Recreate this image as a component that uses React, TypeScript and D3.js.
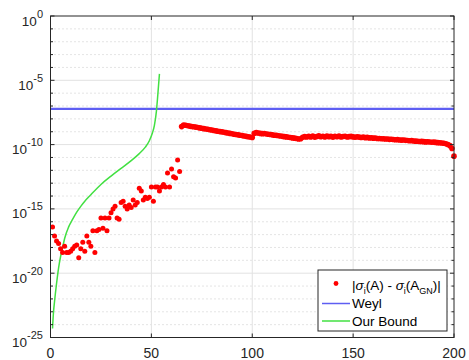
import React from "react";
import * as d3 from "d3";

// log10 of |sigma_i(A) - sigma_i(A_GN)| for i = 1..200
const gapExp: number[] = [
  -16.4, -17.1, -17.5, -17.7, -18.1, -18.4, -17.9, -18.4, -18.4, -18.3,
  -18.1, -17.9, -17.8, -18.8, -18.1, -17.6, -18.3, -17.1, -17.6, -17.9,
  -16.7, -18.4, -16.7, -16.6, -15.7, -16.5, -15.7, -16.7, -15.7, -15.3,
  -15.0, -14.8, -15.7, -15.8, -14.5, -14.4, -14.8, -15.0, -14.7, -14.9,
  -14.3, -14.7, -14.5, -13.4, -13.6, -14.3, -14.1, -14.2, -14.1, -13.3,
  -14.4, -13.3, -13.3, -13.6, -13.3, -13.1, -13.3, -12.2, -13.3, -11.9,
  -12.5, -12.6, -11.2, -12.1,
  // i = 65..100
  -8.6, -8.48, -8.5, -8.53, -8.56, -8.59, -8.61, -8.64, -8.67, -8.7,
  -8.73, -8.76, -8.79, -8.81, -8.84, -8.87, -8.9, -8.93, -8.96, -8.99,
  -9.01, -9.04, -9.07, -9.1, -9.13, -9.16, -9.19, -9.21, -9.24, -9.27,
  -9.3, -9.33, -9.36, -9.39, -9.41, -9.45,
  // i = 101..200
  -9.12, -9.07, -9.1, -9.13, -9.15, -9.14, -9.18, -9.2, -9.22, -9.24,
  -9.27, -9.28, -9.31, -9.33, -9.36, -9.38, -9.4, -9.43, -9.45, -9.48,
  -9.5, -9.53, -9.57, -9.54, -9.43, -9.38, -9.41, -9.36, -9.4, -9.34,
  -9.42, -9.37, -9.32, -9.39, -9.35, -9.41, -9.33, -9.38, -9.36, -9.42,
  -9.35, -9.39, -9.34, -9.4, -9.37, -9.35, -9.41, -9.38, -9.36, -9.4,
  -9.43, -9.39, -9.42, -9.45, -9.41, -9.46, -9.44, -9.48, -9.47, -9.5,
  -9.49, -9.53, -9.52, -9.55, -9.54, -9.57, -9.56, -9.59, -9.58, -9.6,
  -9.62, -9.61, -9.64, -9.65, -9.64, -9.67, -9.68, -9.7, -9.69, -9.72,
  -9.73, -9.74, -9.76, -9.75, -9.77, -9.79, -9.78, -9.8, -9.82, -9.81,
  -9.83, -9.85, -9.86, -9.88, -9.9, -9.94, -9.99, -10.08, -10.3, -10.9,
];

// Weyl perturbation bound (constant)
const weylBound = 6e-8;

// Our bound, as (index, log10 value) pairs
const boundX: number[] = [1, 1.5, 2, 3, 4, 5, 6, 7, 9, 11, 13, 15, 17, 20, 25, 30, 35, 40, 44, 47, 49, 50.5, 51.5, 52.5, 53, 53.5, 54];
const boundExp: number[] = [-24.3, -23.0, -22.2, -20.8, -19.6, -18.7, -18.0, -17.3, -16.4, -15.8, -15.25, -14.8, -14.4, -13.9, -13.1, -12.45, -11.85, -11.25, -10.7, -10.2, -9.7, -9.1, -8.5, -7.4, -6.5, -5.5, -4.5];

const xTicks = [0, 50, 100, 150, 200];
const yMajorExp = [0, -5, -10, -15, -20, -25];
const legendLabels = ["Weyl", "Our Bound"];

const FONT = "'Liberation Sans', Arial, Helvetica, sans-serif";

export default function App() {
  const W = 469, H = 360;
  const x0 = 50.5, x1 = 454, y0 = 337.5, y1 = 16;
  const x = d3.scaleLinear().domain([0, 200]).range([x0, x1]);
  const y = d3.scaleLog().domain([1e-25, 1]).range([y0, y1]);

  const minorExp = d3.range(-24, 0).filter((e) => e % 5 !== 0);
  const axisColor = "#262626";
  const blue = "#5e5ef2";
  const green = "#42e042";

  const boundLine = d3
    .line<number>()
    .x((_, k) => x(boundX[k]))
    .y((_, k) => y(Math.pow(10, boundExp[k])))
    .curve(d3.curveMonotoneX)(boundExp) as string;

  const legend = { x: 318, y: 270, w: 129, h: 61 };

  return (
    <svg width={W} height={H} style={{ position: "absolute", left: 0, top: 0, background: "#fff" }} fontFamily={FONT}>
      <rect x={0} y={0} width={W} height={H} fill="#fff" />
      {/* grid */}
      {minorExp.map((e) => (
        <line key={"mn" + e} x1={x0} x2={x1} y1={y(Math.pow(10, e))} y2={y(Math.pow(10, e))}
          stroke="#bdbdbd" strokeWidth={0.8} strokeDasharray="1,3" />
      ))}
      {yMajorExp.slice(1, -1).map((e) => (
        <line key={"mj" + e} x1={x0} x2={x1} y1={y(Math.pow(10, e))} y2={y(Math.pow(10, e))}
          stroke="#e2e2e2" strokeWidth={1} />
      ))}
      {xTicks.slice(1, -1).map((t) => (
        <line key={"vx" + t} x1={x(t)} x2={x(t)} y1={y1} y2={y0} stroke="#e2e2e2" strokeWidth={1} />
      ))}

      {/* Weyl bound */}
      <line x1={x0} x2={x1} y1={y(weylBound)} y2={y(weylBound)} stroke={blue} strokeWidth={2.2} />

      {/* our bound */}
      <path d={boundLine} fill="none" stroke={green} strokeWidth={1.5} />

      {/* singular value differences */}
      {gapExp.map((v, k) => (
        <circle key={"p" + k} cx={x(k + 1)} cy={y(Math.pow(10, v))} r={k < 64 ? 2.5 : 2.8} fill="#ff0000" />
      ))}

      {/* axes box and ticks */}
      <rect x={x0} y={y1} width={x1 - x0} height={y0 - y1} fill="none" stroke={axisColor} strokeWidth={1} />
      {xTicks.map((t) => (
        <g key={"xt" + t}>
          <line x1={x(t)} x2={x(t)} y1={y0} y2={y0 - 4} stroke={axisColor} />
          <line x1={x(t)} x2={x(t)} y1={y1} y2={y1 + 4} stroke={axisColor} />
          <text x={x(t)} y={358} textAnchor="middle" fontSize={14} fill="#262626">{t}</text>
        </g>
      ))}
      {minorExp.map((e) => (
        <g key={"ym" + e}>
          <line x1={x0} x2={x0 + 2.5} y1={y(Math.pow(10, e))} y2={y(Math.pow(10, e))} stroke={axisColor} />
          <line x1={x1} x2={x1 - 2.5} y1={y(Math.pow(10, e))} y2={y(Math.pow(10, e))} stroke={axisColor} />
        </g>
      ))}
      {yMajorExp.map((e) => {
        const yy = y(Math.pow(10, e));
        return (
          <g key={"yt" + e}>
            <line x1={x0} x2={x0 + 4} y1={yy} y2={yy} stroke={axisColor} />
            <line x1={x1} x2={x1 - 4} y1={yy} y2={yy} stroke={axisColor} />
            <text x={43} y={yy + 9.5} textAnchor="end" fontSize={13.5} fill="#262626">
              10<tspan dy={-8} fontSize={11}>{e}</tspan>
            </text>
          </g>
        );
      })}

      {/* legend */}
      <rect x={legend.x} y={legend.y} width={legend.w} height={legend.h} fill="#fff" stroke={axisColor} strokeWidth={1} />
      <circle cx={336} cy={283.5} r={2.4} fill="#ff0000" />
      <text x={352} y={290} fontSize={13.5} fill="#000">
        |<tspan fontStyle="italic">σ</tspan>
        <tspan dy={3.5} fontSize={9}>i</tspan>
        <tspan dy={-3.5}>(A) - </tspan>
        <tspan fontStyle="italic">σ</tspan>
        <tspan dy={3.5} fontSize={9}>i</tspan>
        <tspan dy={-3.5}>(A</tspan>
        <tspan dy={3.5} fontSize={9}>GN</tspan>
        <tspan dy={-3.5}>)|</tspan>
      </text>
      <line x1={322} x2={350} y1={303.5} y2={303.5} stroke={blue} strokeWidth={1.5} />
      <text x={352} y={308} fontSize={13.5} fill="#000">{legendLabels[0]}</text>
      <line x1={322} x2={350} y1={321} y2={321} stroke={green} strokeWidth={1.5} />
      <text x={352} y={325.5} fontSize={13.5} fill="#000">{legendLabels[1]}</text>
    </svg>
  );
}
